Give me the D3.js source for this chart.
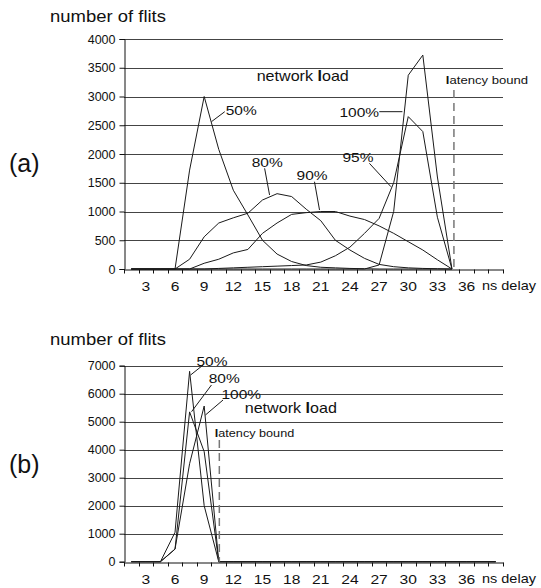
<!DOCTYPE html>
<html><head><meta charset="utf-8">
<script src="https://cdn.jsdelivr.net/npm/d3@7"></script>
<style>
body{margin:0;background:#fff;}
text{font-family:"Liberation Sans",Arial,sans-serif;fill:#111;}
</style></head>
<body>
<script>
// ---- data ----
const delays = [1.5,3,4.5,6,7.5,9,10.5,12,13.5,15,16.5,18,19.5,21,22.5,24,25.5,27,28.5,30,31.5,33,34.5,36,37.5,39];
const xTickLabels = [3,6,9,12,15,18,21,24,27,30,33,36];
const yTicksA = [0,500,1000,1500,2000,2500,3000,3500,4000];
const yTicksB = [0,1000,2000,3000,4000,5000,6000,7000];

// (a) delay histograms, one value per delay category (1.5 ... 34.5 ns)
const load50a  = [0,0,0,0,1720,3000,2080,1370,940,500,260,130,60,30,20,10,5,0,0,0,0,0,0];
const load80a  = [0,0,0,0,170,560,800,890,970,1200,1310,1260,1040,840,500,330,185,80,40,20,10,5,0];
const load90a  = [0,0,0,0,0,100,170,280,340,620,800,950,980,1000,1000,920,860,750,620,475,330,160,0];
const load95a  = [0,0,0,0,0,0,10,20,30,40,50,60,70,120,230,380,620,880,1500,2650,2390,900,0];
const load100a = [0,0,0,0,0,0,0,0,0,0,0,0,0,0,0,0,0,70,1000,3370,3720,1600,0];

// (b)
const load50b  = [0,0,0,1050,6800,2000,0,0,0,0,0,0,0,0,0,0,0,0,0,0,0,0,0,0,0,0];
const load80b  = [0,0,0,450,5350,3930,0,0,0,0,0,0,0,0,0,0,0,0,0,0,0,0,0,0,0,0];
const load100b = [0,0,0,450,3500,5560,0,0,0,0,0,0,0,0,0,0,0,0,0,0,0,0,0,0,0,0];

// annotations (delay, value units)
const annotA = [
  {text:"50%",  tx:11.22, ty:2678, x1:11.12, y1:2736, x2:9.75,  y2:2562},
  {text:"80%",  tx:13.89, ty:1774, x1:15.22, y1:1751, x2:15.73, y2:1287},
  {text:"90%",  tx:18.51, ty:1548, x1:20.35, y1:1518, x2:20.87, y2:1026},
  {text:"95%",  tx:23.23, ty:1861, x1:26.0,  y1:1838, x2:28.22, y2:1431},
  {text:"100%", tx:22.92, ty:2643, x1:27.02, y1:2736, x2:29.4,  y2:2736}
];
const annotB = [
  {text:"50%",  tx:8.21,  ty:6989, x1:8.89,  y1:7024, x2:7.6,  y2:6667},
  {text:"80%",  tx:9.47,  ty:6382, x1:9.75,  y1:6311, x2:7.7,  y2:5357},
  {text:"100%", tx:10.78, ty:5810, x1:10.94, y1:5774, x2:9.13, y2:5239}
];

// ---- drawing ----
const W = 541, H = 588;
const svg = d3.select("body").append("svg").attr("width", W).attr("height", H);
svg.append("rect").attr("width", W).attr("height", H).attr("fill", "#fff");

const x = d3.scaleBand().domain(delays).range([124, 503]).padding(0);
const xc = d => x(d) + x.bandwidth() / 2;
const xLin = d3.scaleLinear().domain([0.75, 39.75]).range([124, 503]);

function txt(g, px, py, s, size, sx, anchor) {
  return g.append("text")
    .attr("transform", `translate(${px},${py}) scale(${sx},1)`)
    .attr("font-size", size)
    .attr("text-anchor", anchor || "start")
    .text(s);
}

function chart(cfg) {
  const g = svg.append("g");
  const y = d3.scaleLinear().domain([0, cfg.yMax]).range([cfg.y0, cfg.y1]);

  // gridlines
  g.selectAll(".grid").data(cfg.yTicks.filter(v => v > 0)).enter().append("line")
    .attr("x1", 124).attr("x2", 503)
    .attr("y1", d => Math.round(y(d)) + 0.5).attr("y2", d => Math.round(y(d)) + 0.5)
    .attr("stroke", "#444").attr("stroke-width", 1);

  // y axis
  const ya = g.append("g").attr("transform", "translate(124.5,0)")
    .call(d3.axisLeft(y).tickValues(cfg.yTicks).tickSize(5).tickPadding(4).tickFormat(d3.format("d")));
  ya.select(".domain").attr("stroke", "#111");
  ya.selectAll(".tick line").attr("stroke", "#111");
  ya.selectAll("text").attr("font-size", 12.5).attr("fill", "#111")
    .style("font-family", '"Liberation Sans",Arial,sans-serif');

  // x axis
  const xa = g.append("g").attr("transform", `translate(0,${Math.round(cfg.y0) + 0.5})`)
    .call(d3.axisBottom(x).tickSize(0).tickPadding(13)
      .tickFormat(d => xTickLabels.includes(d) ? String(d) : ""));
  xa.select(".domain").attr("stroke", "#111");
  xa.selectAll("text").attr("font-size", 12).attr("fill", "#111")
    .attr("transform", "scale(1.3,1)")
    .style("font-family", '"Liberation Sans",Arial,sans-serif');
  // category boundary ticks
  const bounds = delays.map(d => x(d)).concat([x(delays[delays.length - 1]) + x.bandwidth()]);
  xa.selectAll(".btick").data(bounds).enter().append("line")
    .attr("x1", d => Math.round(d) + 0.5).attr("x2", d => Math.round(d) + 0.5)
    .attr("y1", 0).attr("y2", 4).attr("stroke", "#111");
  txt(g, 482, Math.round(cfg.y0) + 21, "ns delay", 12.5, 1.16);

  // series
  const line = d3.line().x(d => xc(d.d)).y(d => y(d.v));
  cfg.series.forEach(s => {
    const pts = s.map((v, i) => ({d: delays[i], v}));
    g.append("path").attr("d", line(pts)).attr("fill", "none")
      .attr("stroke", "#1a1a1a").attr("stroke-width", 1).attr("stroke-linejoin", "miter");
  });

  // latency bound
  g.append("line")
    .attr("x1", xLin(cfg.bound)).attr("x2", xLin(cfg.bound))
    .attr("y1", y(cfg.boundTop)).attr("y2", y(0))
    .attr("stroke", "#777").attr("stroke-width", 1.5).attr("stroke-dasharray", "8,5");

  // annotations
  cfg.annot.forEach(a => {
    g.append("line").attr("x1", xLin(a.x1)).attr("y1", y(a.y1))
      .attr("x2", xLin(a.x2)).attr("y2", y(a.y2))
      .attr("stroke", "#1a1a1a").attr("stroke-width", 1);
    txt(g, xLin(a.tx), y(a.ty), a.text, 12.6, 1.23);
  });

  const nl = txt(g, xLin(cfg.netX), y(cfg.netY), "", 14, 1.15);
  nl.append("tspan").text("network ");
  nl.append("tspan").attr("font-weight", "bold").text("l");
  nl.append("tspan").text("oad");

  const lb = txt(g, xLin(cfg.latX), y(cfg.latY), "", cfg.latSize, 1.11);
  lb.append("tspan").attr("font-weight", "bold").text("l");
  lb.append("tspan").text("atency bound");

  // titles
  txt(g, 50, cfg.titleY, "number of flits", 16.5, 1.12);
  txt(g, 9, cfg.tagY, cfg.tag, 25, 1.0);
}

chart({
  yMax: 4000, y0: 269, y1: 39, yTicks: yTicksA,
  series: [load50a, load80a, load90a, load95a, load100a],
  annot: annotA, bound: 34.7, boundTop: 3113,
  netX: 14.4, netY: 3270, latX: 33.87, latY: 3217, latSize: 11.8,
  titleY: 22, tag: "(a)", tagY: 172
});
chart({
  yMax: 7000, y0: 561.7, y1: 365.7, yTicks: yTicksB,
  series: [load50b, load80b, load100b],
  annot: annotB, bound: 10.56, boundTop: 4346,
  netX: 13.17, netY: 5310, latX: 10.09, latY: 4453, latSize: 11.4,
  titleY: 345, tag: "(b)", tagY: 473
});
</script>
</body></html>
